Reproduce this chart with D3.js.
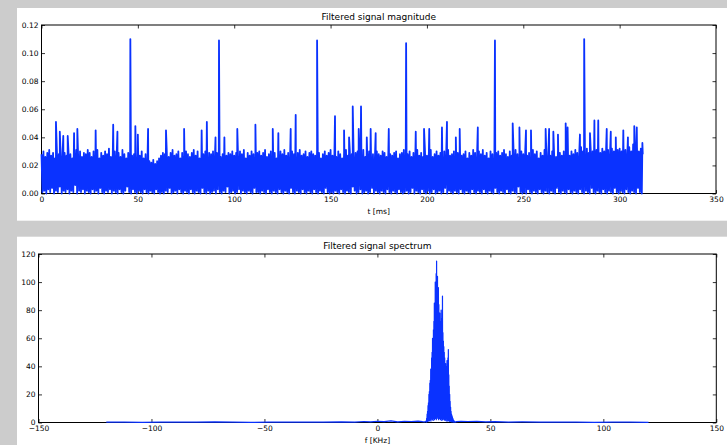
<!DOCTYPE html>
<html><head><meta charset="utf-8">
<script src="https://cdn.jsdelivr.net/npm/d3@7"></script>
<style>
html,body{margin:0;padding:0;background:#cccccc;}
svg{display:block;}
text{font-family:"DejaVu Sans",sans-serif;}
</style></head><body>
<svg id="chart" width="727" height="445"></svg>
<script>
// ---------- DATA ----------
// Top chart: filtered signal magnitude, samples every 0.5 ms starting at t = 0 (values in thousandths)
const magSampleStepMs = 0.5;
const magnitudeBand = [
28,1,30,2,26,0,29,3,31,1,27,4,29,0,25,2,30,1,28,5,26,0,31,2,29,
1,27,3,30,0,28,2,25,1,29,6,31,0,27,2,30,1,26,3,29,0,28,2,31,1,
29,0,26,3,30,1,28,2,31,0,25,4,29,1,27,0,30,2,28,1,32,3,26,0,29,
2,30,1,27,0,29,3,26,1,31,0,28,2,25,5,29,1,30,0,27,3,28,1,26,0,
29,2,27,1,30,0,25,3,28,1,24,0,23,2,22,1,24,0,21,3,23,1,25,0,27,
1,29,0,28,2,30,1,26,4,29,0,31,1,27,2,28,0,30,3,25,1,29,0,27,2,
30,1,28,0,26,3,29,1,31,0,27,2,30,1,25,0,29,4,28,1,30,0,26,2,29,
0,28,1,30,2,27,0,29,3,31,1,26,0,28,2,30,1,27,5,29,0,28,1,30,2,
27,0,29,1,26,3,30,0,28,2,31,1,25,0,29,2,27,1,30,0,28,4,26,1,29,
1,30,0,27,2,29,1,31,0,26,3,28,1,30,0,27,2,29,1,25,0,28,3,30,1,
28,0,31,2,27,1,29,0,26,4,30,1,28,0,25,2,29,1,31,0,27,3,28,1,30,
0,26,2,29,1,30,0,28,3,27,1,31,0,29,2,25,1,28,0,30,4,27,1,29,0,
31,1,27,0,29,2,26,1,30,0,28,3,25,1,29,0,31,2,27,1,30,0,28,5,26,
2,29,0,30,1,27,3,28,0,31,1,26,2,29,0,30,1,27,4,28,0,25,2,30,1,
28,0,27,2,30,1,29,0,26,3,31,1,28,0,27,2,29,1,30,0,25,3,28,1,29,
0,31,1,27,2,28,0,30,1,26,4,29,0,28,2,31,1,27,0,29,3,26,1,30,0,
27,2,29,0,31,1,26,3,28,0,30,1,27,2,29,0,25,1,30,4,28,0,31,2,27,
1,28,0,30,2,26,1,29,0,31,3,27,1,28,0,30,2,25,1,29,0,27,3,31,1,
29,0,26,2,30,1,28,0,31,3,27,1,29,0,25,2,30,1,28,0,26,4,29,1,30,
0,27,2,29,1,31,0,28,3,26,1,30,0,27,2,29,1,31,0,28,5,26,1,30,0,
28,1,30,0,27,3,29,1,26,0,31,2,28,1,30,0,25,3,29,1,27,0,31,2,28,
1,29,0,27,2,30,1,28,0,26,4,31,1,29,0,27,2,30,1,28,0,32,3,27,1,
30,0,28,2,31,1,29,0,27,3,33,1,30,0,28,2,32,1,29,0,31,4,30,1,33,
0,31,2,34,1,29,0,32,3,30,1,33,0,31,2,28,1,32,0,30,4,34,1,31,0,
32,2,30,1,34,0,31,3,29,1,33,0,30,2,35,1,31,0,33,4,30,1,32,0,28
];
// Isolated spikes (time in ms, magnitude in thousandths)
const spikeTimes = [7.5,9.5,11.3,13.6,16.9,18.6,28.1,37.2,39.4,46.1,48.7,50.0,55.3,64.6,74.0,83.1,85.8,90.3,92.1,94.9,101.6,111.0,120.0,122.9,129.3,131.9,143.0,152.3,157.0,159.6,161.5,164.6,165.8,168.8,170.8,173.4,180.2,189.2,194.2,198.5,201.2,207.8,210.4,215.0,217.0,226.4,235.3,244.5,248.0,251.4,254.0,261.6,263.4,265.6,268.0,272.0,273.0,279.4,281.6,284.6,286.9,288.9,293.3,295.4,298.0,301.9,304.3,307.6,308.9,311.8];
const spikeValues = [51,44,41,41,43,46,45,49,44,110,48,42,46,45,46,45,51,40,109,40,46,49,46,43,46,56,109,55,45,40,62,46,62,40,46,43,46,107,44,46,46,47,51,40,46,47,109,50,47,45,45,46,46,44,42,50,47,42,110,43,52,52,46,44,40,45,40,48,47,36];
const magXTicks = [0,50,100,150,200,250,300,350];
const magYTicks = [0,0.02,0.04,0.06,0.08,0.10,0.12];

// Bottom chart: filtered signal spectrum
const baseFreqs = [-120,-112,-104,-96,-88,-80,-72,-64,-56,-48,-40,-32,-24,-16,-10,-6,-3,0,3,6,9,12,15,18,20,21,35,37,40,44,48,52,58,64,72,80,88,96,104,112,120];
const baseMags  = [0.2,0.3,0.1,0.3,0.2,0.2,0.4,0.3,0.1,0.2,0.3,0.2,0.3,0.5,0.3,0.7,0.4,0.9,0.6,1.1,0.5,0.9,0.7,1.0,0.6,0.5,0.6,0.9,0.7,0.8,0.5,0.6,0.3,0.4,0.3,0.2,0.3,0.1,0.2,0.2,0.1];
const peakFreqStart = 21.6, peakFreqStep = 0.1;
const peakMags = [
1,0.3,3,0.5,6,1,8,0.8,12,1.2,14,2,20,1,22,1.5,28,2,30,3,
38,1,36,2.5,46,3,50,2,60,4,48,1.5,66,3,72,5,85,2,78,4,
100,3,96,6,106,2,115,5,102,4,104,3,92,5,96,2,84,4,70,3,
78,6,66,2,72,3,80,5,62,1.5,74,4,90,2,64,3,58,5,54,2,
50,3,46,1.5,38,2,42,4,36,1,40,2.5,44,3,38,1,46,2,52,1.5,
34,1,26,2,20,0.8,15,1.2,11,1,8,0.5,6,0.8,5,0.6,4,0.4,3,0.5,
2,0.3,1.5,0.4,1,0.2,0.6,0.2,0.3
];
const specXTicks = [-150,-100,-50,0,50,100,150];
const specYTicks = [0,20,40,60,80,100,120];

// ---------- RENDER ----------
const svg = d3.select("#chart");
svg.append("rect").attr("width",727).attr("height",445).attr("fill","#cccccc");
svg.append("rect").attr("x",17).attr("y",8).attr("width",710).attr("height",212.7).attr("fill","#fff");
svg.append("rect").attr("x",17).attr("y",236.7).attr("width",710).attr("height",208.3).attr("fill","#fff");

const lineColor = "#0a32ff";

function panel(opt){
  const {L,R,T,B,xDom,yDom,xTicks,yTicks,xFmt,yFmt,title,xlabel,data,lw} = opt;
  const x = d3.scaleLinear().domain(xDom).range([L,R]);
  const y = d3.scaleLinear().domain(yDom).range([B,T]);
  const g = svg.append("g");
  const fs = 7.5;
  function style(ax){
    ax.select(".domain").remove();
    ax.attr("font-family","DejaVu Sans, sans-serif").attr("font-size",fs);
    ax.selectAll(".tick line").attr("stroke","#000").attr("stroke-width",0.8);
    ax.selectAll(".tick text").attr("fill","#000");
  }
  g.append("g").attr("transform",`translate(0,${B})`)
    .call(d3.axisBottom(x).tickValues(xTicks).tickSizeInner(-3.5).tickSizeOuter(0).tickPadding(3.5).tickFormat(xFmt)).call(style);
  g.append("g").attr("transform",`translate(0,${T})`)
    .call(d3.axisTop(x).tickValues(xTicks).tickSizeInner(-3.5).tickSizeOuter(0).tickFormat("")).call(style);
  g.append("g").attr("transform",`translate(${L},0)`)
    .call(d3.axisLeft(y).tickValues(yTicks).tickSizeInner(-3.5).tickSizeOuter(0).tickPadding(3).tickFormat(yFmt)).call(style);
  g.append("g").attr("transform",`translate(${R},0)`)
    .call(d3.axisRight(y).tickValues(yTicks).tickSizeInner(-3.5).tickSizeOuter(0).tickFormat("")).call(style);
  g.append("rect").attr("x",L).attr("y",T).attr("width",R-L).attr("height",B-T)
    .attr("fill","none").attr("stroke","#000").attr("stroke-width",1);
  const line = d3.line().x(d=>x(d[0])).y(d=>y(d[1]));
  g.append("path").datum(data).attr("d",line).attr("fill","none")
    .attr("stroke",lineColor).attr("stroke-width",lw).attr("stroke-linejoin","round");
  g.append("text").attr("x",(L+R)/2).attr("y",T-5).attr("text-anchor","middle")
    .attr("font-size",9).attr("fill","#000").text(title);
  g.append("text").attr("x",(L+R)/2).attr("y",B+20.5).attr("text-anchor","middle")
    .attr("font-size",fs).attr("fill","#000").text(xlabel);
}

// magnitude series: band samples + spikes, ordered by time
const magData = magnitudeBand.map((v,i)=>[i*magSampleStepMs, v/1000])
  .concat(spikeTimes.map((t,i)=>[t, spikeValues[i]/1000]))
  .sort((a,b)=>a[0]-b[0]);

const specData = baseFreqs.map((f,i)=>[f, baseMags[i]])
  .concat(peakMags.map((v,i)=>[peakFreqStart + i*peakFreqStep, v]))
  .sort((a,b)=>a[0]-b[0]);

const minus = s => String(s).replace("-", "\u2212");

panel({L:41.5,R:716,T:25,B:193.5,xDom:[0,350],yDom:[0,0.12],
  xTicks:magXTicks,yTicks:magYTicks,xFmt:d=>String(d),yFmt:d=>d.toFixed(2),
  title:"Filtered signal magnitude",xlabel:"t [ms]",data:magData,lw:1.8});

panel({L:38.5,R:716.3,T:254,B:422.5,xDom:[-150,150],yDom:[0,120],
  xTicks:specXTicks,yTicks:specYTicks,xFmt:d=>minus(d),yFmt:d=>String(d),
  title:"Filtered signal spectrum",xlabel:"f [KHz]",data:specData,lw:1.2});
</script>
</body></html>
